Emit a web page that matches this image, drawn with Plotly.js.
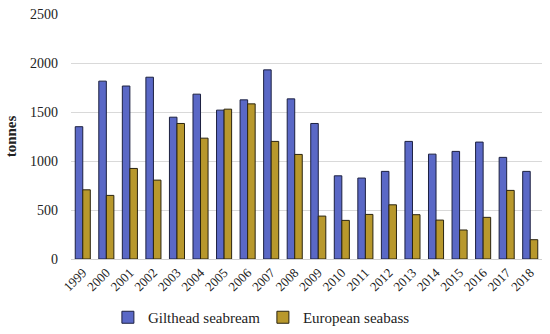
<!DOCTYPE html>
<html>
<head>
<meta charset="utf-8">
<script src="https://cdn.plot.ly/plotly-3.0.1.min.js"></script>
<style>html,body{margin:0;padding:0;background:#fff;}#chart{width:550px;height:334px;}</style>
</head>
<body>
<div id="chart"></div>
<script>
const years = ['1999','2000','2001','2002','2003','2004','2005','2006','2007','2008','2009','2010','2011','2012','2013','2014','2015','2016','2017','2018'];
const giltheadSeabream = [1350,1815,1765,1855,1447,1682,1519,1624,1930,1634,1383,849,826,894,1200,1070,1098,1193,1037,894];
const europeanSeabass = [706,649,924,805,1383,1233,1529,1583,1200,1067,438,394,455,553,452,397,296,425,700,197];
const yTicks = [0,500,1000,1500,2000,2500];

const font = 'Liberation Serif, Times New Roman, serif';
const data = [
  {type:'bar', name:'Gilthead seabream', x:years, y:giltheadSeabream,
   marker:{color:'#5a68c6', line:{color:'#1c2040', width:1}}},
  {type:'bar', name:'European seabass', x:years, y:europeanSeabass,
   marker:{color:'#b8982c', line:{color:'#2a2410', width:1}}}
];
const layout = {
  width:550, height:334,
  margin:{l:71, r:8, t:14, b:75},
  paper_bgcolor:'#fff', plot_bgcolor:'#fff',
  barmode:'group', bargap:0.36, bargroupgap:0,
  font:{family:font, size:14, color:'#222'},
  showlegend:true,
  legend:{orientation:'h', xref:'container', yref:'container', x:0.478, xanchor:'center', y:0.0, yanchor:'bottom',
          font:{family:font, size:15, color:'#222'}, itemwidth:30, entrywidth:110, entrywidthmode:'pixels', traceorder:'normal'},
  xaxis:{type:'category', tickangle:-45, showgrid:false, showline:true, linecolor:'#d0d0d0', linewidth:1,
         automargin:false, ticks:'', tickfont:{family:font, size:13, color:'#222'}},
  yaxis:{range:[0,2500], tickvals:yTicks, ticktext:yTicks.map(String), showgrid:true, gridcolor:'#d9d9d9', gridwidth:1,
         automargin:false, zeroline:false, showline:false, ticks:'', ticklabelstandoff:12, tickfont:{family:font, size:14, color:'#222'},
         title:{text:'<b>tonnes</b>', font:{family:font, size:15, color:'#222'}, standoff:9}}
};
Plotly.newPlot('chart', data, layout, {displayModeBar:false, staticPlot:true});
</script>
</body>
</html>
